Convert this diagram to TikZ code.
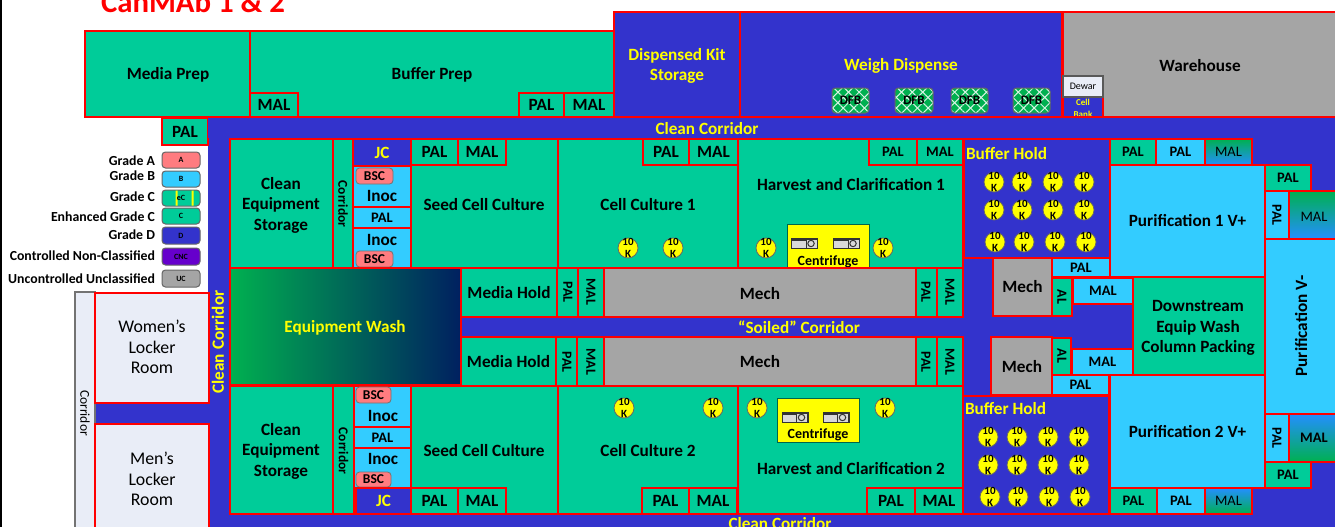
\documentclass[tikz,border=0pt]{standalone}
\usepackage{fontspec}
\setmainfont{Carlito}
\usetikzlibrary{patterns.meta}
\definecolor{wallColor}{HTML}{FF0000}
\definecolor{grA}{HTML}{FF7C80}
\definecolor{grB}{HTML}{33CCFF}
\definecolor{grC}{HTML}{00CC99}
\definecolor{grD}{HTML}{3333CC}
\definecolor{cncColor}{HTML}{6600CC}
\definecolor{ucColor}{HTML}{A5A5A5}
\definecolor{lockerColor}{HTML}{E9EDF7}
\definecolor{dfbColor}{HTML}{00B050}
\definecolor{navyColor}{HTML}{002060}
\definecolor{tankColor}{HTML}{FFFF00}
\newcommand{\fs}[2]{\fontsize{#1}{#2}\selectfont}
\tikzset{
	room/.style={draw=wallColor,line width=2.4pt,inner sep=0,outer sep=0,align=center,font=\bfseries\fs{17.2}{20.5},text=black},
	lab/.style={inner sep=0,outer sep=0,align=center,font=\bfseries\fs{17.2}{20.5},text=black},
	sideways/.style={rotate=-90},
	yel/.style={text=tankColor},
	fbig/.style={font=\bfseries\fs{17.2}{20}},
	fmid/.style={font=\bfseries\fs{14.5}{17}},
	fvert/.style={font=\bfseries\fs{14}{16}},
	fcorr/.style={font=\bfseries\fs{13.5}{15}},
	fplain/.style={font=\fs{17.8}{20.5}},
	legend/.style={lab,anchor=east,font=\bfseries\fs{13.8}{15}},
	chip/.style={draw=black!60,line width=1pt,rounded corners=3.5pt,font=\bfseries\fs{8}{9}},
	bsc/.style={draw=black!55,line width=.8pt,fill=grA,rounded corners=3.5pt,font=\bfseries\fs{13.5}{15}},
	dfb/.style={draw=black!60,line width=1pt,rounded corners=3.5pt,font=\bfseries\fs{13}{15},
		preaction={fill=dfbColor},
		preaction={pattern={Lines[angle=45,distance=7.5pt,line width=1pt]},pattern color=white!85!dfbColor},
		pattern={Lines[angle=-45,distance=7.5pt,line width=1pt]},pattern color=white!85!dfbColor},
	tankshape/.style={circle,draw=black!60,line width=.8pt,fill=tankColor,minimum size=20pt,inner sep=0,outer sep=0},
	tanktext/.style={lab,font=\bfseries\fs{11}{12}},
	cfg/.style={draw=black!50!grC,line width=1pt,fill=tankColor},
	cfgbody/.style={draw=black!80,line width=.9pt,fill=black!15,minimum width=26pt,minimum height=10pt,inner sep=0,outer sep=0}
}
% x0, y0, x1, y1 are pixels of the plan
\newcommand{\room}[7][]{\node[room,minimum width={(#5-#3)*1pt},minimum height={(#6-#4)*1pt},#1] (#2) at ({(#3+#5)/2},{(#4+#6)/2}) {#7};}
\newcommand{\tank}[3]{\node[tankshape] (#1) at (#2,#3) {}; \node[tanktext] (#1t) at (#1) {10\\K};}
\newcommand{\cfgicon}[3]{\node[cfgbody] (#1) at (#2,#3) {};
	\fill[black!80] (#1.north west) rectangle ([xshift=-12pt,yshift=-2.5pt]#1.north east);
	\fill[black!80] ([xshift=-12pt]#1.north east) rectangle (#1.south east);
	\fill[black!15] ([xshift=-11pt,yshift=-1pt]#1.north east) rectangle ([xshift=-1pt,yshift=1pt]#1.south east);
	\draw[black!80,line width=1pt] ([xshift=-6.5pt]#1.east) circle (3.2pt);}

\begin{document}
\begin{tikzpicture}[x=1pt,y=-1pt]
	\clip (0,0) rectangle (1335,527);
	\fill[white] (0,0) rectangle (1335,527);
	\node[fill=black,inner sep=0,minimum width=2pt,minimum height=527pt] (edge) at (1,263.5) {};
	\room[draw=none,fill=grD]{ground}{208}{117}{1345}{537}{}
	\room[draw=none,fill=grD]{gap}{95}{403}{209}{424}{}
	\node[lab,anchor=base west,text=wallColor,font=\bfseries\fs{30.8}{33}] (title) at (101,13) {CanMAb 1 \& 2};

	% top block
	\room[fill=grC]{mediaprep}{85}{31}{250}{117}{}
	\node[lab] (mediaprept) at (168,75) {Media Prep};
	\room[fill=grC]{bufferprep}{250}{31}{614}{117}{}
	\node[lab] (bufferprept) at (432,75) {Buffer Prep};
	\room[fill=grC,fbig]{malTopA}{250}{93}{298}{117}{MAL}
	\room[fill=grC,fbig]{palTopA}{519}{93}{564}{117}{PAL}
	\room[fill=grC,fbig]{malTopB}{564}{93}{614}{117}{MAL}
	\room[fill=grC,fbig]{palTopB}{162}{118}{208}{145}{PAL}
	\room[fill=grD]{kit}{614}{12}{740}{117}{}
	\node[lab,yel] (kitt) at (677,66) {Dispensed Kit\\Storage};
	\room[fill=grD]{weigh}{740}{12}{1062}{117}{}
	\node[lab,yel] (weight) at (901,66) {Weigh Dispense};
	\room[fill=ucColor]{warehouse}{1063}{12}{1345}{117}{}
	\node[lab] (warehouset) at (1200,66) {Warehouse};
	\room[dfb]{dfbA}{832}{88}{869}{113}{DFB}
	\room[dfb]{dfbB}{895}{88}{933}{113}{DFB}
	\room[dfb]{dfbC}{951}{88}{988}{113}{DFB}
	\room[dfb]{dfbD}{1013}{88}{1050}{113}{DFB}
	\room[fill=grD]{cellbank}{1063}{97}{1103}{117}{}
	\node[lab,yel,font=\bfseries\fs{9}{12.5}] (cellbankt) at (1083,108.5) {Cell\\Bank};
	\room[fill=lockerColor,draw=black!65,line width=1.3pt,font=\fs{10}{12}]{dewar}{1063}{76}{1103}{97}{Dewar}
	\room[draw=none,fill=grD]{corrTop}{208}{118}{1345}{138}{}
	\node[lab,yel] (corrTopt) at (707,129) {Clean Corridor};
	\draw[wallColor,line width=2.4pt] (cellbank.south west) -- (cellbank.south east);

	% legend
	\node[legend] (lgA) at (155,161) {Grade A};
	\node[legend] (lgB) at (155,176) {Grade B};
	\node[legend] (lgC) at (155,197) {Grade C};
	\node[legend] (lgE) at (155,217) {Enhanced Grade C};
	\node[legend] (lgD) at (155,235) {Grade D};
	\node[legend] (lgN) at (155,256) {Controlled Non-Classified};
	\node[legend] (lgU) at (155,279) {Uncontrolled Unclassified};
	\room[chip,fill=grA]{chA}{162}{152}{200}{168}{A}
	\room[chip,fill=grB]{chB}{162}{171}{200}{187}{B}
	\room[chip,fill=grC]{chE}{162}{190}{200}{206}{}
	\fill[tankColor] (175.5,190.5) rectangle (177.5,205.5) (191.5,190.5) rectangle (193.5,205.5);
	\node[lab,font=\bfseries\fs{8}{9}] (chEt) at (181,197.5) {eC};
	\room[chip,fill=grC]{chC}{162}{208}{200}{224}{C}
	\room[chip,fill=grD]{chD}{162}{227}{200}{244}{D}
	\room[chip,fill=cncColor]{chN}{162}{248}{200}{265}{CNC}
	\room[chip,fill=ucColor]{chU}{162}{270}{200}{287}{UC}

	% lockers
	\room[fill=lockerColor,draw=black!55,line width=1.3pt]{corrOut}{75}{292}{95}{540}{}
	\node[lab,sideways,font=\fs{13.5}{15}] (corrOutt) at (85,413) {Corridor};
	\room[fill=lockerColor]{women}{95}{293}{209}{403}{}
	\node[lab,fplain] (woment) at (152,347) {Women’s\\Locker\\Room};
	\room[fill=lockerColor]{men}{95}{424}{209}{540}{}
	\node[lab,fplain] (ment) at (152,479) {Men’s\\Locker\\Room};
	\node[lab,yel,rotate=90] (corrLeft) at (218,342) {Clean Corridor};

	% upper rooms
	\room[fill=grC]{storeA}{230}{139}{333}{268}{}
	\node[lab] (storeAt) at (281,205) {Clean\\Equipment\\Storage};
	\room[fill=grC]{corrA}{333}{139}{353}{268}{}
	\node[lab,sideways,fcorr] (corrAt) at (343,204) {Corridor};
	\room[fill=grD,yel]{jcA}{353}{139}{411}{166}{JC}
	\room[fill=grB]{inocA}{353}{166}{411}{207}{}
	\node[lab] (inocAt) at (382,196) {Inoc};
	\room[bsc]{bscA}{356}{168}{393}{184}{BSC}
	\room[fill=grB,fmid]{palInocA}{353}{207}{411}{228}{PAL}
	\room[fill=grB]{inocB}{353}{228}{411}{268}{}
	\node[lab] (inocBt) at (382,240) {Inoc};
	\room[bsc]{bscB}{356}{251}{393}{267}{BSC}
	\room[fill=grC]{seedA}{411}{139}{558}{268}{}
	\node[lab] (seedAt) at (484,205) {Seed Cell Culture};
	\room[fill=grC,fbig]{palSeedA}{411}{139}{458}{165}{PAL}
	\room[fill=grC,fbig]{malSeedA}{458}{139}{506}{165}{MAL}
	\room[fill=grC]{cultA}{558}{139}{738}{268}{}
	\node[lab] (cultAt) at (648,205) {Cell Culture 1};
	\room[fill=grC,fbig]{palCultA}{643}{139}{689}{165}{PAL}
	\room[fill=grC,fbig]{malCultA}{689}{139}{738}{165}{MAL}
	\room[fill=grC]{harvA}{738}{139}{963}{268}{}
	\node[lab] (harvAt) at (851,185) {Harvest and Clarification 1};
	\room[fill=grC,fmid]{palHarvA}{869}{139}{917}{165}{PAL}
	\room[fill=grC,fmid]{malHarvA}{917}{139}{963}{165}{MAL}
	\tank{tkA}{628}{248}
	\tank{tkB}{673}{248}
	\tank{tkC}{766}{248}
	\tank{tkD}{883}{248}
	\room[cfg]{cfgA}{787}{224}{869}{268}{}
	\node[lab,font=\bfseries\fs{14}{15}] (cfgAt) at (828,262) {Centrifuge};
	\cfgicon{iconA}{804.5}{243.5}
	\cfgicon{iconB}{846.5}{243.5}

	% buffer hold, purification
	\room[fill=grD]{holdA}{964}{139}{1110}{258}{}
	\node[lab,yel,anchor=west] (holdAt) at (966,154) {Buffer Hold};
	\tank{hA}{994}{182} \tank{hB}{1022}{182} \tank{hC}{1053}{182} \tank{hD}{1084}{182}
	\tank{hE}{994}{210} \tank{hF}{1022}{210} \tank{hG}{1053}{210} \tank{hH}{1084}{210}
	\tank{hI}{995}{242} \tank{hJ}{1024}{242} \tank{hK}{1055}{242} \tank{hL}{1086}{242}
	\room[fill=grC,fmid]{palPurA}{1110}{139}{1156}{165}{PAL}
	\room[fill=grB,fmid]{palPurB}{1156}{139}{1205}{165}{PAL}
	\room[top color=dfbColor,bottom color=grB!70!blue,font=\fs{14.5}{17}]{malPurA}{1205}{139}{1252}{165}{MAL}
	\room[fill=grB]{purA}{1110}{165}{1265}{277}{Purification 1 V+}
	\room[fill=grC,fmid]{palRightA}{1265}{165}{1311}{191}{PAL}
	\room[fill=grB]{palRightB}{1265}{191}{1289}{239}{}
	\node[lab,sideways,fvert] (palRightBt) at (1277,215) {PAL};
	\room[top color=dfbColor,bottom color=grB!70!blue,font=\fs{14.5}{17}]{malRightA}{1289}{191}{1345}{239}{}
	\node[lab,font=\fs{14.5}{17}] (malRightAt) at (1314,216.5) {MAL};
	\room[fill=grB]{purMinus}{1265}{239}{1345}{414}{}
	\node[lab,rotate=90] (purMinust) at (1301,326) {Purification V-};

	% middle
	\room[fill=ucColor]{mechC}{993}{258}{1052}{316}{Mech}
	\room[fill=grB,fmid]{palMidA}{1052}{258}{1110}{277}{PAL}
	\room[fill=grC]{alA}{1052}{278}{1072}{316}{}
	\node[lab,sideways,fvert] (alAt) at (1062,297) {AL};
	\room[fill=grB,fmid]{malMidA}{1073}{278}{1133}{304}{MAL}
	\room[fill=grC]{wash}{1133}{277}{1265}{375}{}
	\node[lab] (washt) at (1198,328) {Downstream\\Equip Wash\\Column Packing};
	\room[left color=dfbColor,right color=navyColor]{eqwash}{230}{268}{461}{385}{}
	\node[lab,yel] (eqwasht) at (345,328) {Equipment Wash};
	\room[fill=grC]{holdMedA}{461}{268}{557}{317}{Media Hold}
	\room[fill=grC]{palMedA}{557}{268}{578}{317}{}
	\node[lab,sideways,fvert] (palMedAt) at (568,292) {PAL};
	\room[fill=grC]{malMedA}{578}{268}{604}{317}{}
	\node[lab,sideways,fvert] (malMedAt) at (591,292) {MAL};
	\room[fill=ucColor]{mechA}{604}{268}{916}{317}{}
	\node[lab] (mechAt) at (760,294) {Mech};
	\room[fill=grC]{palMedB}{916}{268}{937}{317}{}
	\node[lab,sideways,fvert] (palMedBt) at (926,292) {PAL};
	\room[fill=grC]{malMedB}{937}{268}{963}{317}{}
	\node[lab,sideways,fvert] (malMedBt) at (950,292) {MAL};
	\node[lab,yel] (soiled) at (799,327) {“Soiled” Corridor};
	\room[fill=grC]{holdMedB}{461}{337}{556}{386}{Media Hold}
	\room[fill=grC]{palMedC}{556}{337}{577}{386}{}
	\node[lab,sideways,fvert] (palMedCt) at (567,362) {PAL};
	\room[fill=grC]{malMedC}{577}{337}{604}{386}{}
	\node[lab,sideways,fvert] (malMedCt) at (591,362) {MAL};
	\room[fill=ucColor]{mechB}{604}{337}{916}{386}{}
	\node[lab] (mechBt) at (760,362) {Mech};
	\room[fill=grC]{palMedD}{916}{337}{937}{386}{}
	\node[lab,sideways,fvert] (palMedDt) at (926,362) {PAL};
	\room[fill=grC]{malMedD}{937}{337}{963}{386}{}
	\node[lab,sideways,fvert] (malMedDt) at (950,362) {MAL};
	\room[fill=ucColor]{mechD}{991}{337}{1052}{395}{}
	\node[lab] (mechDt) at (1022,367) {Mech};
	\room[fill=grC]{alB}{1052}{338}{1071}{375}{}
	\node[lab,sideways,fvert] (alBt) at (1062,356) {AL};
	\room[fill=grB,fmid]{malMidB}{1072}{349}{1133}{375}{MAL}
	\room[fill=grB,fmid]{palMidB}{1052}{375}{1109}{395}{PAL}

	% lower rooms
	\room[fill=grC]{storeB}{230}{386}{333}{514}{}
	\node[lab] (storeBt) at (281,451) {Clean\\Equipment\\Storage};
	\room[fill=grC]{corrB}{333}{386}{354}{514}{}
	\node[lab,sideways,fcorr] (corrBt) at (343.5,451) {Corridor};
	\room[fill=grB]{inocC}{354}{386}{411}{427}{}
	\node[lab] (inocCt) at (383,416) {Inoc};
	\room[bsc]{bscC}{356}{387}{391}{403}{BSC}
	\room[fill=grB,fmid]{palInocB}{354}{427}{411}{448}{PAL}
	\room[fill=grB]{inocD}{354}{448}{411}{488}{}
	\node[lab] (inocDt) at (383,459) {Inoc};
	\room[bsc]{bscD}{356}{472}{391}{487}{BSC}
	\room[fill=grD,yel]{jcB}{356}{488}{411}{514}{JC}
	\room[fill=grC]{seedB}{411}{386}{558}{514}{}
	\node[lab] (seedBt) at (484,451) {Seed Cell Culture};
	\room[fill=grC,fbig]{palSeedB}{411}{488}{458}{514}{PAL}
	\room[fill=grC,fbig]{malSeedB}{458}{488}{506}{514}{MAL}
	\room[fill=grC]{cultB}{558}{386}{738}{514}{}
	\node[lab] (cultBt) at (648,451) {Cell Culture 2};
	\room[fill=grC,fbig]{palCultB}{642}{488}{689}{514}{PAL}
	\room[fill=grC,fbig]{malCultB}{689}{488}{737}{514}{MAL}
	\room[fill=grC]{harvB}{738}{386}{963}{514}{}
	\node[lab] (harvBt) at (851,469) {Harvest and Clarification 2};
	\room[fill=grC,fbig]{palHarvB}{867}{488}{915}{514}{PAL}
	\room[fill=grC,fbig]{malHarvB}{915}{488}{963}{514}{MAL}
	\tank{tkE}{624}{408}
	\tank{tkF}{713}{408}
	\tank{tkG}{757}{408}
	\tank{tkH}{885}{408}
	\room[cfg]{cfgB}{777}{398}{859}{442}{}
	\node[lab,font=\bfseries\fs{14}{15}] (cfgBt) at (818,435) {Centrifuge};
	\cfgicon{iconC}{795}{417.5}
	\cfgicon{iconD}{836}{417.5}

	\room[fill=grD]{holdB}{963}{396}{1109}{514}{}
	\node[lab,yel,anchor=west] (holdBt) at (965,409) {Buffer Hold};
	\tank{jA}{988}{437} \tank{jB}{1017}{437} \tank{jC}{1048}{437} \tank{jD}{1079}{437}
	\tank{jE}{988}{465} \tank{jF}{1017}{465} \tank{jG}{1048}{465} \tank{jH}{1079}{465}
	\tank{jI}{990}{497} \tank{jJ}{1018}{497} \tank{jK}{1049}{497} \tank{jL}{1080}{497}
	\room[fill=grB]{purB}{1110}{375}{1265}{488}{Purification 2 V+}
	\room[fill=grC,fmid]{palPurC}{1110}{488}{1157}{514}{PAL}
	\room[fill=grB,fmid]{palPurD}{1157}{488}{1205}{514}{PAL}
	\room[top color=grB!70!blue,bottom color=dfbColor,font=\fs{14.5}{17}]{malPurB}{1205}{488}{1252}{514}{MAL}
	\room[fill=grB]{palRightC}{1265}{414}{1289}{462}{}
	\node[lab,sideways,fvert] (palRightCt) at (1277,438) {PAL};
	\room[top color=grB!70!blue,bottom color=dfbColor,font=\bfseries\fs{14.5}{17}]{malRightB}{1289}{414}{1345}{462}{}
	\node[lab,font=\bfseries\fs{14.5}{17}] (malRightBt) at (1314,438) {MAL};
	\room[fill=grC,fmid]{palRightD}{1265}{462}{1311}{488}{PAL}
	\node[lab,yel] (corrBottom) at (780,524) {Clean Corridor};
\end{tikzpicture}
\end{document}
